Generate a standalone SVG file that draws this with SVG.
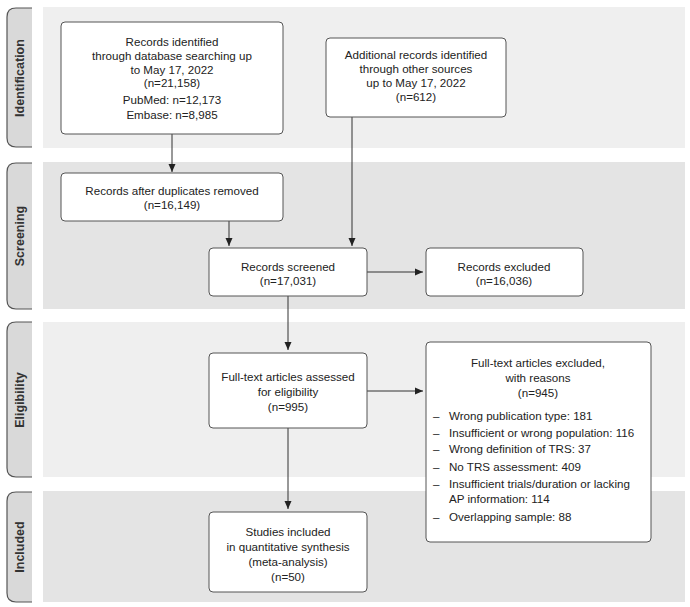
<svg xmlns="http://www.w3.org/2000/svg" width="690" height="607" viewBox="0 0 690 607">
<style>
.band1{fill:#efefef}
.band2{fill:#e4e4e4}
.tabf{fill:#d9d9d9}
.tabs{fill:none;stroke:#555;stroke-width:1.2}
.tabt{font-family:"Liberation Sans",Arial,sans-serif;font-size:12.5px;font-weight:bold;fill:#333;text-anchor:middle}
.box{fill:#fff;stroke:#555;stroke-width:1}
.t{font-family:"Liberation Sans",Arial,sans-serif;font-size:11.6px;fill:#222;text-anchor:middle}
.l{font-family:"Liberation Sans",Arial,sans-serif;font-size:11.6px;fill:#222}
.c{fill:none;stroke:#333;stroke-width:1}
</style>
<defs>
<marker id="ah" viewBox="0 0 8 8" refX="8" refY="4" markerWidth="8" markerHeight="8" markerUnits="userSpaceOnUse" orient="auto">
<path d="M0,0.5 L8,4 L0,7.5 Z" fill="#222"/>
</marker>
</defs>
<g id="bands">
<rect class="band1" x="43" y="7" width="642" height="141"/>
<rect class="band2" x="43" y="162" width="642" height="147"/>
<rect class="band1" x="43" y="322" width="642" height="155"/>
<rect class="band2" x="43" y="491" width="642" height="111"/>
</g>
<g id="tab-identification">
<path class="tabf" d="M32,8 L16,8 Q7,8 7,17 L7,138 Q7,147 16,147 L32,147 Z"/>
<path class="tabs" d="M32,8 L16,8 Q7,8 7,17 L7,138 Q7,147 16,147 L32,147"/>
<text class="tabt" transform="translate(24,78) rotate(-90)">Identification</text>
</g>
<g id="tab-screening">
<path class="tabf" d="M32,163 L16,163 Q7,163 7,172 L7,300 Q7,309 16,309 L32,309 Z"/>
<path class="tabs" d="M32,163 L16,163 Q7,163 7,172 L7,300 Q7,309 16,309 L32,309"/>
<text class="tabt" transform="translate(24,236) rotate(-90)">Screening</text>
</g>
<g id="tab-eligibility">
<path class="tabf" d="M32,322 L16,322 Q7,322 7,331 L7,468 Q7,477 16,477 L32,477 Z"/>
<path class="tabs" d="M32,322 L16,322 Q7,322 7,331 L7,468 Q7,477 16,477 L32,477"/>
<text class="tabt" transform="translate(24,400) rotate(-90)">Eligibility</text>
</g>
<g id="tab-included">
<path class="tabf" d="M32,492 L16,492 Q7,492 7,501 L7,593 Q7,602 16,602 L32,602 Z"/>
<path class="tabs" d="M32,492 L16,492 Q7,492 7,501 L7,593 Q7,602 16,602 L32,602"/>
<text class="tabt" transform="translate(24,547) rotate(-90)">Included</text>
</g>
<g id="connectors">
<line class="c" x1="172" y1="134" x2="172" y2="172" marker-end="url(#ah)"/>
<line class="c" x1="352" y1="117" x2="352" y2="246" marker-end="url(#ah)"/>
<line class="c" x1="229" y1="221" x2="229" y2="246" marker-end="url(#ah)"/>
<line class="c" x1="367" y1="272" x2="423" y2="272" marker-end="url(#ah)"/>
<line class="c" x1="288" y1="296" x2="288" y2="350" marker-end="url(#ah)"/>
<line class="c" x1="367" y1="391" x2="423" y2="391" marker-end="url(#ah)"/>
<line class="c" x1="288" y1="428" x2="288" y2="509" marker-end="url(#ah)"/>
</g>
<g id="identified-db">
<rect class="box" x="61" y="22" width="222" height="112" rx="4"/>
<text class="t" x="172" y="46">Records identified</text>
<text class="t" x="172" y="60">through database searching up</text>
<text class="t" x="172" y="74">to May 17, 2022</text>
<text class="t" x="172" y="87">(n=21,158)</text>
<text class="t" x="172" y="104">PubMed: n=12,173</text>
<text class="t" x="172" y="119">Embase: n=8,985</text>
</g>
<g id="identified-other">
<rect class="box" x="326" y="38" width="180" height="79" rx="4"/>
<text class="t" x="416" y="59">Additional records identified</text>
<text class="t" x="416" y="73">through other sources</text>
<text class="t" x="416" y="87">up to May 17, 2022</text>
<text class="t" x="416" y="101">(n=612)</text>
</g>
<g id="dedup">
<rect class="box" x="61" y="173" width="222" height="48" rx="4"/>
<text class="t" x="172" y="195">Records after duplicates removed</text>
<text class="t" x="172" y="209">(n=16,149)</text>
</g>
<g id="screened">
<rect class="box" x="209" y="248" width="158" height="48" rx="4"/>
<text class="t" x="288" y="271">Records screened</text>
<text class="t" x="288" y="285">(n=17,031)</text>
</g>
<g id="excluded">
<rect class="box" x="426" y="248" width="157" height="48" rx="4"/>
<text class="t" x="504" y="271">Records excluded</text>
<text class="t" x="504" y="285">(n=16,036)</text>
</g>
<g id="fulltext">
<rect class="box" x="209" y="353" width="158" height="75" rx="4"/>
<text class="t" x="288" y="381">Full-text articles assessed</text>
<text class="t" x="288" y="396">for eligibility</text>
<text class="t" x="288" y="411">(n=995)</text>
</g>
<g id="fulltext-excluded">
<rect class="box" x="426" y="342" width="225" height="200" rx="4"/>
<text class="t" x="538" y="367">Full-text articles excluded,</text>
<text class="t" x="538" y="382">with reasons</text>
<text class="t" x="538" y="397">(n=945)</text>
<text class="l" x="433" y="420">–</text><text class="l" x="449" y="420">Wrong publication type: 181</text>
<text class="l" x="433" y="437">–</text><text class="l" x="449" y="437">Insufficient or wrong population: 116</text>
<text class="l" x="433" y="453">–</text><text class="l" x="449" y="453">Wrong definition of TRS: 37</text>
<text class="l" x="433" y="471">–</text><text class="l" x="449" y="471">No TRS assessment: 409</text>
<text class="l" x="433" y="488">–</text><text class="l" x="449" y="488">Insufficient trials/duration or lacking</text>
<text class="l" x="449" y="503">AP information: 114</text>
<text class="l" x="433" y="521">–</text><text class="l" x="449" y="521">Overlapping sample: 88</text>
</g>
<g id="included">
<rect class="box" x="209" y="512" width="158" height="80" rx="4"/>
<text class="t" x="288" y="536">Studies included</text>
<text class="t" x="288" y="551">in quantitative synthesis</text>
<text class="t" x="288" y="566">(meta-analysis)</text>
<text class="t" x="288" y="581">(n=50)</text>
</g>
</svg>
